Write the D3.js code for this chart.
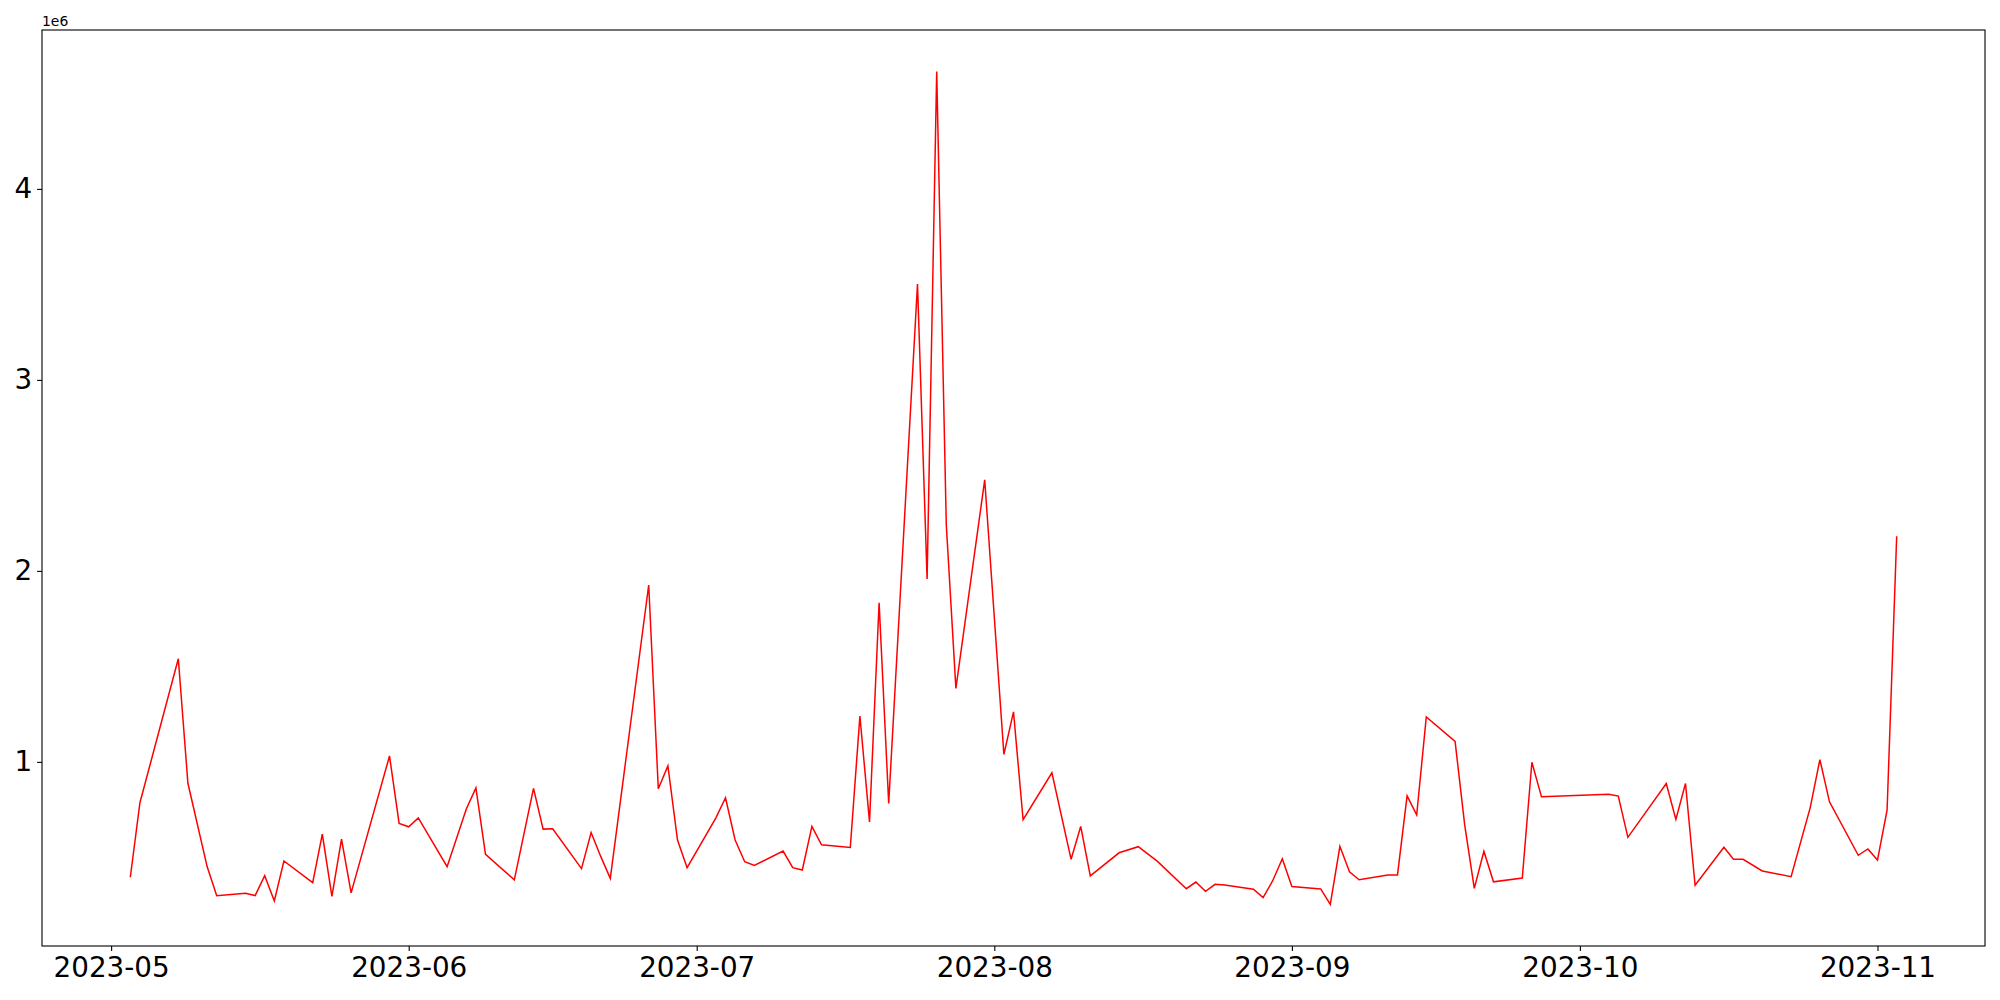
<!DOCTYPE html>
<html>
<head>
<meta charset="utf-8">
<script src="https://cdn.jsdelivr.net/npm/d3@7"></script>
<style>
  body { margin: 0; background: #fff; }
  svg { display: block; }
</style>
</head>
<body>
<div id="chart"></div>
<script>
// dates (trading days only)
const dates = [
  "2023-05-03","2023-05-04","2023-05-08","2023-05-09","2023-05-11","2023-05-12",
  "2023-05-15","2023-05-16","2023-05-17","2023-05-18","2023-05-19",
  "2023-05-22","2023-05-23","2023-05-24","2023-05-25","2023-05-26",
  "2023-05-30","2023-05-31","2023-06-01","2023-06-02",
  "2023-06-05","2023-06-07","2023-06-08","2023-06-09",
  "2023-06-12","2023-06-14","2023-06-15","2023-06-16",
  "2023-06-19","2023-06-20","2023-06-21","2023-06-22",
  "2023-06-26","2023-06-27","2023-06-28","2023-06-29","2023-06-30",
  "2023-07-03","2023-07-04","2023-07-05","2023-07-06","2023-07-07",
  "2023-07-10","2023-07-11","2023-07-12","2023-07-13","2023-07-14",
  "2023-07-17","2023-07-18","2023-07-19","2023-07-20","2023-07-21",
  "2023-07-24","2023-07-25","2023-07-26","2023-07-27","2023-07-28",
  "2023-07-31","2023-08-02","2023-08-03","2023-08-04",
  "2023-08-07","2023-08-09","2023-08-10","2023-08-11",
  "2023-08-14","2023-08-16","2023-08-18",
  "2023-08-21","2023-08-22","2023-08-23","2023-08-24","2023-08-25",
  "2023-08-28","2023-08-29","2023-08-30","2023-08-31","2023-09-01",
  "2023-09-04","2023-09-05","2023-09-06","2023-09-07","2023-09-08",
  "2023-09-11","2023-09-12","2023-09-13","2023-09-14","2023-09-15",
  "2023-09-18","2023-09-19","2023-09-20","2023-09-21","2023-09-22",
  "2023-09-25","2023-09-26","2023-09-27",
  "2023-10-04","2023-10-05","2023-10-06",
  "2023-10-10","2023-10-11","2023-10-12","2023-10-13",
  "2023-10-16","2023-10-17","2023-10-18","2023-10-20",
  "2023-10-23","2023-10-25","2023-10-26","2023-10-27",
  "2023-10-30","2023-10-31","2023-11-01","2023-11-02","2023-11-03"
];
// values, same order as dates
const values = [
  396000, 786000, 1540000, 888000, 452000, 299000,
  312000, 300000, 404000, 272000, 481000,
  368000, 622000, 296000, 596000, 314000,
  1031000, 678000, 660000, 707000,
  451000, 753000, 864000, 516000,
  382000, 861000, 648000, 650000,
  441000, 630000, 505000, 390000,
  1926000, 859000, 979000, 591000, 446000,
  707000, 812000, 591000, 477000, 458000,
  533000, 446000, 434000, 662000, 566000,
  552000, 1240000, 686000, 1833000, 782000,
  3502000, 1958000, 4614000, 2240000, 1385000,
  2477000, 1039000, 1262000, 697000,
  943000, 490000, 662000, 403000,
  524000, 556000, 479000,
  336000, 371000, 322000, 359000, 355000,
  333000, 289000, 378000, 493000, 347000,
  335000, 254000, 558000, 425000, 383000,
  408000, 408000, 822000, 723000, 1235000,
  1107000, 670000, 338000, 532000, 372000,
  392000, 998000, 817000,
  831000, 821000, 605000,
  887000, 699000, 887000, 354000,
  553000, 490000, 490000, 429000,
  399000, 762000, 1012000, 791000,
  511000, 544000, 486000, 747000, 2181000
];
const yTicks = [1000000, 2000000, 3000000, 4000000];
const xTickFormat = "%Y-%m";
const offsetLabel = "1e6";

const width = 2000, height = 1000;
const margin = {top: 30, right: 15, bottom: 54, left: 42};
const fontSize = 27.8;

const parse = d3.utcParse("%Y-%m-%d");
const rows = dates.map((d, i) => ({date: parse(d), value: values[i]}));

let svg = d3.select("#chart").append("svg")
    .attr("width", width)
    .attr("height", height)
    .style("font-family", "'DejaVu Sans', sans-serif");

// matplotlib style 5% margins
let xExt = d3.extent(rows, d => d.date.getTime());
let xPad = (xExt[1] - xExt[0]) * 0.05;
let yExt = d3.extent(rows, d => d.value);
let yPad = (yExt[1] - yExt[0]) * 0.05;

let x = d3.scaleUtc()
    .domain([new Date(xExt[0] - xPad), new Date(xExt[1] + xPad)])
    .range([margin.left, width - margin.right]);
let y = d3.scaleLinear()
    .domain([yExt[0] - yPad, yExt[1] + yPad])
    .range([height - margin.bottom, margin.top]);

let xAxis = d3.axisBottom(x)
    .tickValues(d3.utcMonth.range(d3.utcMonth.ceil(x.domain()[0]), x.domain()[1]))
    .tickFormat(d3.utcFormat(xTickFormat))
    .tickSizeInner(4.9).tickSizeOuter(0).tickPadding(4.9);
let yAxis = d3.axisLeft(y)
    .tickValues(yTicks)
    .tickFormat(d => d / 1e6)
    .tickSizeInner(4.9).tickSizeOuter(0).tickPadding(4.9);

let gx = svg.append("g")
    .attr("transform", `translate(0,${height - margin.bottom})`)
    .call(xAxis);
let gy = svg.append("g")
    .attr("transform", `translate(${margin.left},0)`)
    .call(yAxis);
[gx, gy].forEach(g => {
  g.select(".domain").remove();
  g.selectAll(".tick line").attr("stroke", "#000").attr("stroke-width", 1.1);
  g.selectAll(".tick text")
    .attr("fill", "#000")
    .style("font-family", "'DejaVu Sans', sans-serif")
    .style("font-size", fontSize + "px");
});
gx.selectAll(".tick text").attr("dy", "0.76em");

// the line
let line = d3.line()
    .x(d => x(d.date))
    .y(d => y(d.value));
svg.append("path")
    .datum(rows)
    .attr("d", line)
    .attr("fill", "none")
    .attr("stroke", "#ff0000")
    .attr("stroke-width", 1.5)
    .attr("stroke-linejoin", "miter");

// frame
svg.append("rect")
    .attr("x", margin.left)
    .attr("y", margin.top)
    .attr("width", width - margin.left - margin.right)
    .attr("height", height - margin.top - margin.bottom)
    .attr("fill", "none")
    .attr("stroke", "#000")
    .attr("stroke-width", 1.1);

// offset text above the y axis
svg.append("text")
    .attr("x", margin.left)
    .attr("y", margin.top - 4.5)
    .style("font-size", "13.9px")
    .text(offsetLabel);
</script>
</body>
</html>
